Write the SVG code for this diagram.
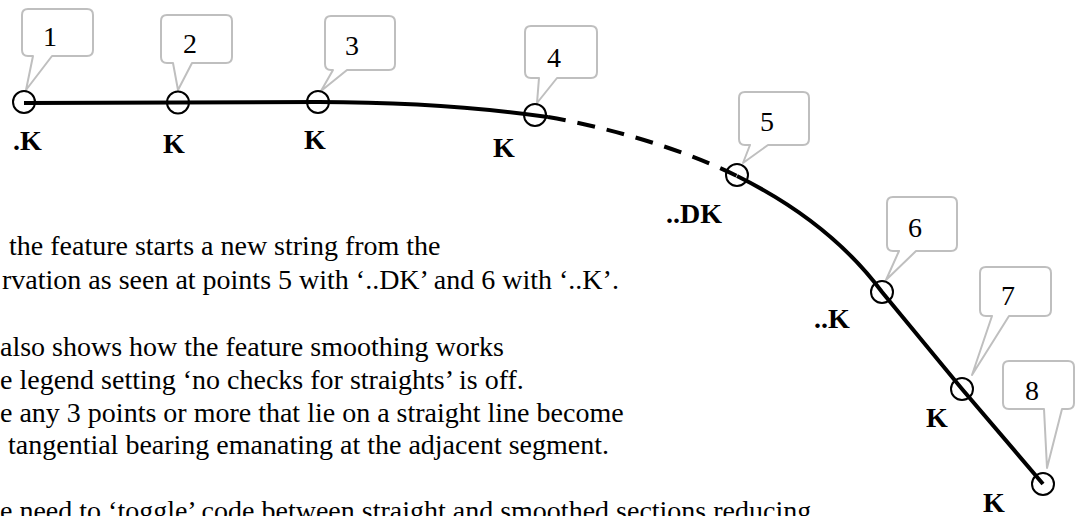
<svg xmlns="http://www.w3.org/2000/svg" width="1080" height="516" viewBox="0 0 1080 516">
<style>
.co{fill:#fff;stroke:#bfbfbf;stroke-width:2;stroke-linejoin:round}
.num{font-family:"Liberation Serif","Times New Roman",serif;font-size:28px;text-anchor:middle;fill:#000}
.pt{fill:none;stroke:#000;stroke-width:2}
.lbl{font-family:"Liberation Serif","Times New Roman",serif;font-size:28px;font-weight:bold;fill:#000}
.body{font-family:"Liberation Serif","Times New Roman",serif;font-size:28px;fill:#000}
.ln{fill:none;stroke:#000;stroke-width:4}
</style>
<rect width="1080" height="516" fill="#fff"/>
<g id="connectors">
<path class="ln" d="M24,103 L178,102.5 L318,102 C400,102 470,106 548,117"/>
<path class="ln" d="M548,117 C610,128 680,148 737,176" stroke-dasharray="18 12"/>
<path class="ln" d="M737,176 Q830,222 882,292 L962,389 L1043,484"/>
</g>
<g id="n1"><path class="co" d="M28,9 H87 Q93,9 93,15 V50 Q93,56 87,56 H52 L26,90 L33,56 H28 Q22,56 22,50 V15 Q22,9 28,9 Z"/><text class="num" x="50" y="46">1</text><circle class="pt" cx="24" cy="102" r="11"/><text class="lbl" x="13" y="150">.K</text></g>
<g id="n2"><path class="co" d="M167,15 H226 Q232,15 232,21 V57 Q232,63 226,63 H192 L178,90 L173,63 H167 Q161,63 161,57 V21 Q161,15 167,15 Z"/><text class="num" x="190" y="53">2</text><circle class="pt" cx="178" cy="102.5" r="11"/><text class="lbl" x="163" y="153">K</text></g>
<g id="n3"><path class="co" d="M331,16 H389 Q395,16 395,22 V64 Q395,70 389,70 H347 L321,91 L333,70 H331 Q325,70 325,64 V22 Q325,16 331,16 Z"/><text class="num" x="352" y="55">3</text><circle class="pt" cx="318" cy="102" r="11"/><text class="lbl" x="304" y="149">K</text></g>
<g id="n4"><path class="co" d="M531,26 H591 Q597,26 597,32 V72 Q597,78 591,78 H557 L537,103 L539,78 H531 Q525,78 525,72 V32 Q525,26 531,26 Z"/><text class="num" x="554" y="67">4</text><circle class="pt" cx="535" cy="115" r="11"/><text class="lbl" x="493" y="157">K</text></g>
<g id="n5"><path class="co" d="M745,92 H803 Q809,92 809,98 V139 Q809,145 803,145 H768 L743,163 L750,145 H745 Q739,145 739,139 V98 Q739,92 745,92 Z"/><text class="num" x="767" y="131">5</text><circle class="pt" cx="737" cy="175" r="11"/><text class="lbl" x="666" y="223">..DK</text></g>
<g id="n6"><path class="co" d="M893,197 H951 Q957,197 957,203 V245 Q957,251 951,251 H916 L886,280 L899,251 H893 Q887,251 887,245 V203 Q887,197 893,197 Z"/><text class="num" x="915" y="237">6</text><circle class="pt" cx="882" cy="292" r="11"/><text class="lbl" x="814" y="328">..K</text></g>
<g id="n7"><path class="co" d="M986,267 H1045 Q1051,267 1051,273 V310 Q1051,316 1045,316 H1009 L972,375 L992,316 H986 Q980,316 980,310 V273 Q980,267 986,267 Z"/><text class="num" x="1008" y="305">7</text><circle class="pt" cx="962" cy="389" r="11"/><text class="lbl" x="926" y="427">K</text></g>
<g id="n8"><path class="co" d="M1009,361 H1068 Q1074,361 1074,367 V403 Q1074,409 1068,409 H1062 L1047,468 L1044,409 H1009 Q1003,409 1003,403 V367 Q1003,361 1009,361 Z"/><text class="num" x="1032" y="400">8</text><circle class="pt" cx="1043" cy="484" r="11"/><text class="lbl" x="983" y="512">K</text></g>
<g id="text">
<text class="body" x="9" y="255">the feature starts a new string from the</text>
<text class="body" x="2" y="289">rvation as seen at points 5 with ‘..DK’ and 6 with ‘..K’.</text>
<text class="body" x="0" y="356">also shows how the feature smoothing works</text>
<text class="body" x="0" y="389">e legend setting ‘no checks for straights’ is off.</text>
<text class="body" x="0" y="422">e any 3 points or more that lie on a straight line become</text>
<text class="body" x="8" y="454">tangential bearing emanating at the adjacent segment.</text>
<text class="body" x="0" y="520">e need to ‘toggle’ code between straight and smoothed sections reducing</text>
</g>
</svg>
